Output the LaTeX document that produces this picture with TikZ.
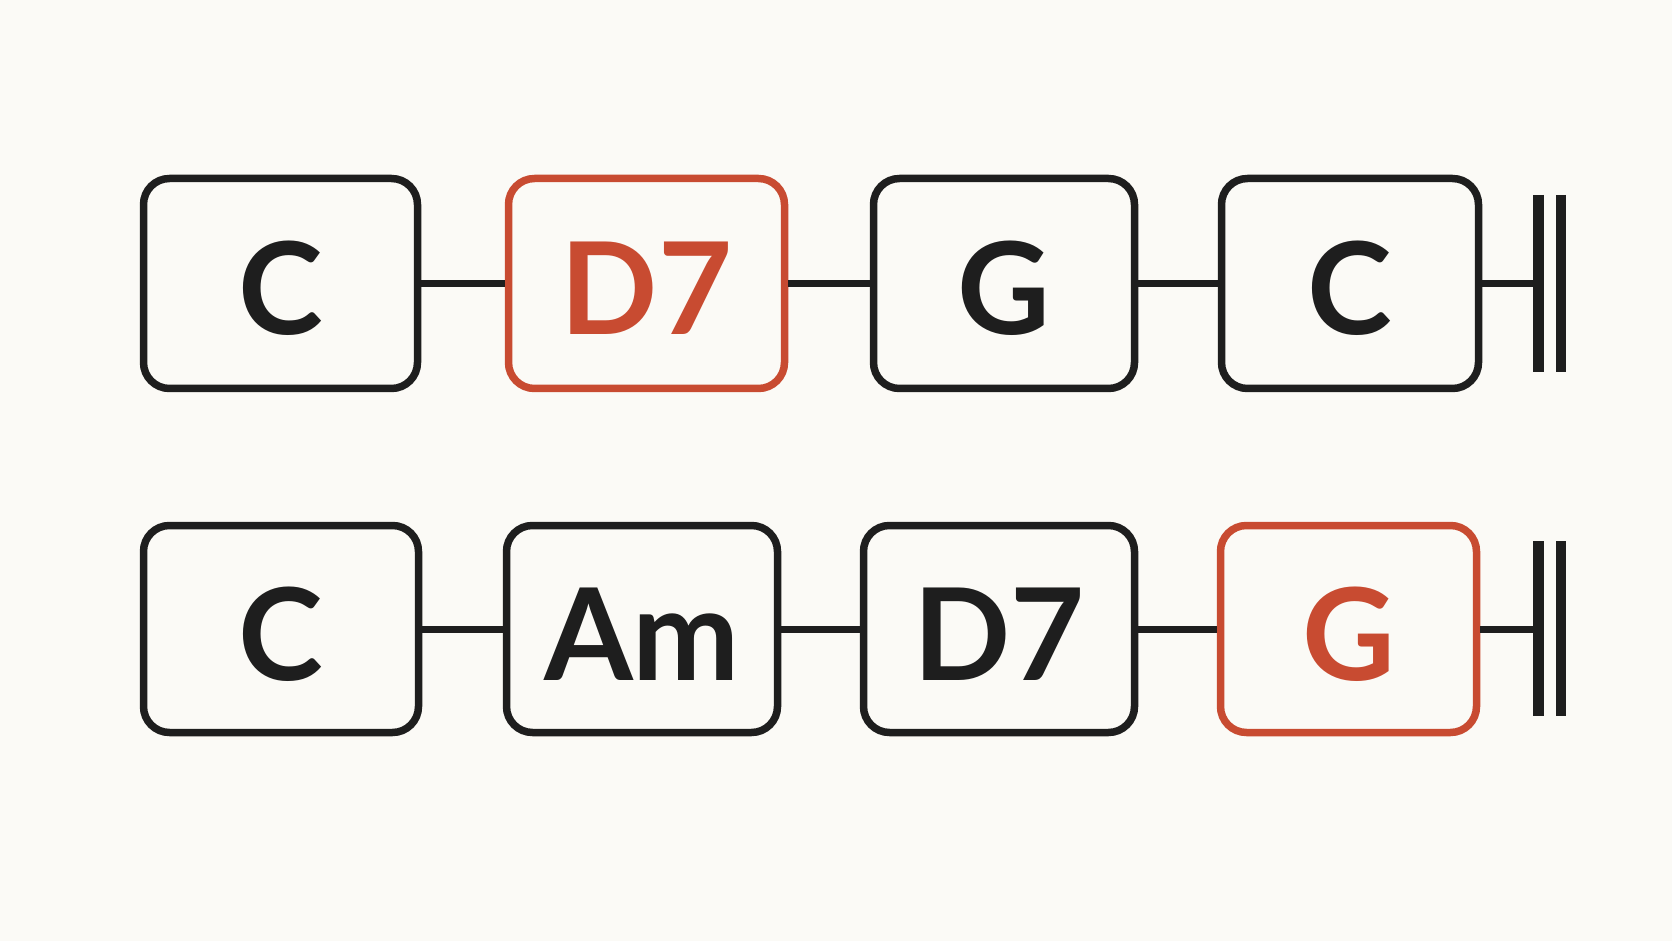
\documentclass[tikz,border=0pt]{standalone}
\usepackage{fontspec}
\setmainfont{Lato}
\usepackage{xcolor}
\usepackage{tikz}
\usetikzlibrary{positioning}
\definecolor{ink}{HTML}{1E1E1E}
\definecolor{accent}{HTML}{C84B31}
\definecolor{paper}{HTML}{FBFAF6}
\tikzset{
	chord/.style={draw=ink, line width=3.75pt, rounded corners=13pt, fill=paper, text=ink, minimum height=105pt, inner sep=0pt, text height=51pt, text depth=0pt, font=\fontsize{64}{70}\selectfont\bfseries},
	hot/.style={chord, draw=accent, text=accent},
	link/.style={draw=ink, line width=3.5pt},
	barline/.style={draw=ink, line width=5.3pt}
}
\begin{document}
\begin{tikzpicture}[x=0.5pt,y=-0.5pt]
		\fill[paper] (0,0) rectangle (1672,941);
		\useasboundingbox (0,0) rectangle (1672,941);

		% first line
		\node[chord, minimum width=137pt] (c1) at (280.5,283.5) {C};
		\node[hot, minimum width=138pt] (d1) at (646.5,283.5) {D7};
		\node[chord, minimum width=130.5pt] (g1) at (1004,283.5) {G};
		\node[chord, minimum width=128.5pt] (e1) at (1350,283.5) {C};

		\coordinate (bar1a) at (1538.5,195); \coordinate (bar1b) at (1538.5,372);
		\coordinate (bar1c) at (1561,195); \coordinate (bar1d) at (1561,372);
		\coordinate (end1) at (1538.5,283.5);

		\draw[link] (c1) -- (d1);
		\draw[link] (d1) -- (g1);
		\draw[link] (g1) -- (e1);
		\draw[link] (e1) -- (end1);
		\draw[barline] (bar1a) -- (bar1b);
		\draw[barline] (bar1c) -- (bar1d);

		% second line
		\node[chord, minimum width=137.5pt, minimum height=103.5pt] (c2) at (281,629) {C};
		\node[chord, minimum width=135.5pt, minimum height=103.5pt] (a2) at (642,629) {Am};
		\node[chord, minimum width=135.5pt, minimum height=103.5pt] (d2) at (999,629) {D7};
		\node[hot, minimum width=128pt, minimum height=103.5pt] (g2) at (1348.5,629) {G};

		\coordinate (bar2a) at (1538.5,541); \coordinate (bar2b) at (1538.5,716);
		\coordinate (bar2c) at (1561,541); \coordinate (bar2d) at (1561,716);
		\coordinate (end2) at (1538.5,629);

		\draw[link] (c2) -- (a2);
		\draw[link] (a2) -- (d2);
		\draw[link] (d2) -- (g2);
		\draw[link] (g2) -- (end2);
		\draw[barline] (bar2a) -- (bar2b);
		\draw[barline] (bar2c) -- (bar2d);
	\end{tikzpicture}
\end{document}
